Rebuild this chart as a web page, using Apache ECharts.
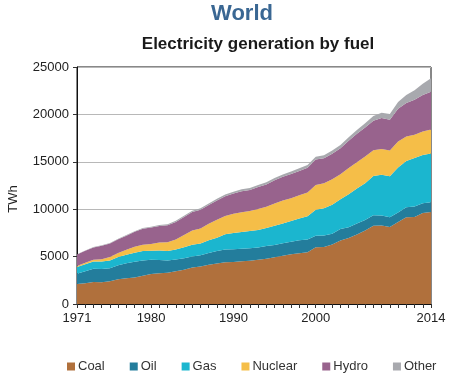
<!DOCTYPE html>
<html><head><meta charset="utf-8">
<script src="https://cdn.jsdelivr.net/npm/echarts@6/dist/echarts.min.js"></script>
<style>html,body{margin:0;padding:0;background:#fff}#c{width:457px;height:386px}</style>
</head><body><div id="c"></div>
<script>
var years = [];
for (var y = 1971; y <= 2014; y++) years.push(String(y));
var tickLabels = ['1971','1980','1990','2000','2014'];
var coal = [2100,2200,2320,2300,2400,2600,2720,2800,2980,3160,3250,3300,3450,3620,3850,3950,4150,4280,4400,4430,4500,4560,4680,4780,4920,5100,5250,5350,5450,5990,6020,6270,6700,6950,7340,7750,8250,8270,8120,8660,9140,9170,9610,9710];
var oil = [1100,1250,1400,1400,1380,1500,1580,1650,1620,1500,1400,1300,1250,1200,1150,1200,1220,1300,1350,1340,1320,1330,1280,1330,1310,1300,1310,1380,1350,1210,1200,1150,1200,1150,1150,1100,1100,1060,1030,980,1060,1120,1020,1020];
var gas = [700,750,750,780,800,850,900,950,1000,970,1000,1000,1050,1170,1250,1220,1360,1420,1600,1730,1770,1800,1850,1910,2030,2100,2200,2300,2450,2750,2870,3050,3150,3480,3700,3900,4150,4300,4330,4750,4880,5100,5080,5150];
var nuclear = [110,150,200,250,370,420,530,630,650,710,850,920,1050,1280,1500,1600,1730,1880,1930,2010,2100,2120,2200,2250,2330,2410,2390,2430,2520,2590,2650,2690,2640,2770,2770,2800,2720,2730,2700,2760,2580,2460,2480,2540];
var hydro = [1210,1260,1300,1420,1430,1450,1480,1580,1680,1720,1740,1790,1860,1900,1950,1980,1990,2040,2080,2140,2210,2210,2320,2340,2470,2500,2560,2580,2600,2700,2640,2700,2730,2860,2990,3070,3100,3250,3250,3450,3530,3700,3850,3980];
var other = [36,40,45,50,55,60,65,70,80,90,100,110,120,130,140,150,160,170,180,190,200,210,220,230,240,250,260,270,280,290,300,320,350,380,410,450,500,560,620,720,850,1000,1180,1410];

var names = ['Coal','Oil','Gas','Nuclear','Hydro','Other'];
var datas = [coal, oil, gas, nuclear, hydro, other];
var colors = ['#b0703c','#237d9c','#1bb6cf','#f5be48','#98638d','#a8a9ae'];
var FONT = 'Liberation Sans, Arial, sans-serif';

var series = names.map(function(n, i){
  return {name:n, type:'line', stack:'total', data:datas[i], symbol:'none',
    lineStyle:{width:0}, areaStyle:{color:colors[i], opacity:1}, itemStyle:{color:colors[i]}};
});

var chart = echarts.init(document.getElementById('c'));
chart.setOption({
  animation:false,
  backgroundColor:'#fff',
  textStyle:{fontFamily:FONT},
  grid:{left:77, right:26, top:67, bottom:82, show:true, borderColor:'#111', borderWidth:1, backgroundColor:'transparent'},
  legend:{data:names, left:62, top:355, itemWidth:8, itemHeight:8, itemGap:25, icon:'rect',
    textStyle:{fontSize:13, color:'#333', fontFamily:FONT, padding:[0,0,0,-2]}},
  xAxis:{type:'category', data:years, boundaryGap:false,
    axisLine:{lineStyle:{color:'#111', width:1}},
    axisTick:{show:true, interval:0, length:4, lineStyle:{color:'#333'}},
    axisLabel:{interval:function(i,v){return tickLabels.indexOf(v)>=0;}, fontSize:13, color:'#222', margin:8, fontFamily:FONT},
    splitLine:{show:false}},
  yAxis:{type:'value', min:0, max:25000, interval:5000,
    axisLine:{show:true, lineStyle:{color:'#111', width:1}},
    axisTick:{show:true, length:4, lineStyle:{color:'#333'}},
    axisLabel:{fontSize:13, color:'#222', margin:8, fontFamily:FONT, formatter:function(v){return String(v);}},
    splitLine:{lineStyle:{color:'#b8b8b8', width:1}}},
  graphic:[
    {type:'text', x:242, y:3, style:{text:'World', fontSize:22, fontWeight:'bold', fill:'#3a6793', textAlign:'center', fontFamily:FONT}},
    {type:'text', x:258, y:36, style:{text:'Electricity generation by fuel', fontSize:17, fontWeight:'bold', fill:'#1a1a1a', textAlign:'center', fontFamily:FONT}},
    {type:'text', x:13, y:199, rotation:Math.PI/2, style:{text:'TWh', fontSize:13, fill:'#222', textAlign:'center', textVerticalAlign:'middle', fontFamily:FONT}}
  ],
  series:series
});
</script></body></html>
